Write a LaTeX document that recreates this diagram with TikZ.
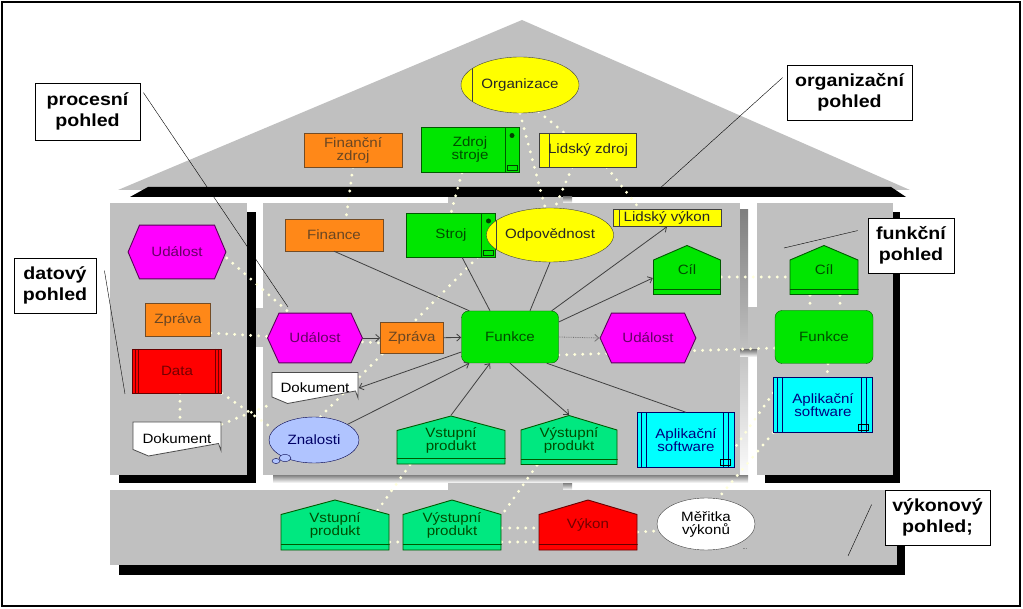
\documentclass[tikz,border=0pt]{standalone}
\usepackage{fontspec}
\setmainfont{Liberation Sans}[FakeStretch=1.12]
\usetikzlibrary{shapes.geometric,arrows.meta}
\definecolor{panel}{RGB}{192,192,192}
\definecolor{shade}{RGB}{128,128,128}
\definecolor{aorange}{RGB}{255,136,24}
\definecolor{agreen}{RGB}{0,230,0}
\definecolor{amint}{RGB}{0,232,128}
\definecolor{amag}{RGB}{255,0,255}
\definecolor{ayellow}{RGB}{255,255,0}
\definecolor{acyan}{RGB}{0,255,255}
\definecolor{ared}{RGB}{255,0,0}
\definecolor{aknow}{RGB}{176,196,255}
\definecolor{dotc}{RGB}{255,255,220}
\newcommand\boxfont{\fontsize{13.5}{13}\selectfont}
\newcommand\viewfont{\bfseries\fontsize{17.5}{21}\selectfont}
\pgfdeclarelayer{back}
\pgfdeclarelayer{links}
\pgfsetlayers{back,links,main}
\begin{document}
\begin{tikzpicture}[x=1pt,y=-1pt,
  box/.style={rectangle,inner sep=0pt,align=center,font=\boxfont},
  orangebox/.style={box,fill=aorange,draw=brown!60!black,text=brown!55!black},
  greenbox/.style={box,fill=agreen,draw=green!35!black,text=green!30!black},
  yellowbox/.style={box,fill=ayellow,draw=black!75,text=black!85},
  leftbar/.style={path picture={\draw[black!75] ([xshift=#1]path picture bounding box.north west) -- ([xshift=#1]path picture bounding box.south west);}},
  yellowoval/.style={ellipse,inner sep=0pt,font=\boxfont,fill=ayellow,draw=black!75,text=black!85},
  knowoval/.style={ellipse,inner sep=0pt,font=\boxfont,fill=aknow,draw=blue!30!black,text=blue!40!black},
  whiteoval/.style={ellipse,inner sep=0pt,align=center,font=\boxfont,fill=white,draw=black!75},
  funcbox/.style={greenbox,rounded corners=7pt},
  machine/.style={greenbox,path picture={
    \draw[green!35!black] ([xshift=-14pt]path picture bounding box.north east) -- ([xshift=-14pt]path picture bounding box.south east);
    \fill[green!25!black] ([xshift=-7pt,yshift=-8pt]path picture bounding box.north east) circle (2.5pt);
    \draw[green!25!black,line width=.4pt] ([xshift=-12pt,yshift=2pt]path picture bounding box.south east) rectangle ([xshift=-2pt,yshift=7pt]path picture bounding box.south east);}},
  house/.style 2 args={box,path picture={
    \filldraw[fill=#1,draw=#2,line width=.9pt]
      ([xshift=.5pt,yshift=.5pt]path picture bounding box.south west) --
      ([xshift=.5pt,yshift=-15pt]path picture bounding box.north west) --
      ([yshift=-.5pt]path picture bounding box.north) --
      ([xshift=-.5pt,yshift=-15pt]path picture bounding box.north east) --
      ([xshift=-.5pt,yshift=.5pt]path picture bounding box.south east) -- cycle;
    \draw[#2,line width=.9pt] ([yshift=6pt]path picture bounding box.south west) -- ([yshift=6pt]path picture bounding box.south east);}},
  hexa/.style={box,text=violet!80!black,path picture={
    \filldraw[fill=amag,draw=violet!70!black,line width=.9pt]
      ([xshift=.6pt]path picture bounding box.west) --
      ([xshift=12pt,yshift=-.6pt]path picture bounding box.north west) --
      ([xshift=-12pt,yshift=-.6pt]path picture bounding box.north east) --
      ([xshift=-.6pt]path picture bounding box.east) --
      ([xshift=-12pt,yshift=.6pt]path picture bounding box.south east) --
      ([xshift=12pt,yshift=.6pt]path picture bounding box.south west) -- cycle;}},
  docbox/.style={box,path picture={
    \filldraw[fill=white,draw=black!70,line width=.8pt]
      ([xshift=.5pt,yshift=7pt]path picture bounding box.south west) --
      ([xshift=.5pt,yshift=-.5pt]path picture bounding box.north west) --
      ([xshift=-.5pt,yshift=-.5pt]path picture bounding box.north east) --
      ([xshift=-.5pt,yshift=6pt]path picture bounding box.south east) --
      ([xshift=-3pt,yshift=13pt]path picture bounding box.south east) --
      ([xshift=16pt,yshift=.5pt]path picture bounding box.south west) -- cycle;}},
  appsw/.style={box,fill=acyan,draw=blue!40!black,text=blue!50!black,path picture={
    \foreach \d in {4pt,9pt}{
      \draw[blue!40!black] ([xshift=\d]path picture bounding box.north west) -- ([xshift=\d]path picture bounding box.south west);
      \draw[blue!40!black] ([xshift=-\d-2pt]path picture bounding box.north east) -- ([xshift=-\d-2pt]path picture bounding box.south east);}
    \draw[black,line width=.4pt] ([xshift=-14pt,yshift=2pt]path picture bounding box.south east) rectangle ([xshift=-4pt,yshift=8pt]path picture bounding box.south east);}},
  datab/.style={box,fill=ared,draw=red!40!black,text=red!45!black,path picture={
    \foreach \d in {3pt,6pt}{
      \draw[red!45!black] ([xshift=\d]path picture bounding box.north west) -- ([xshift=\d]path picture bounding box.south west);
      \draw[red!45!black] ([xshift=-\d]path picture bounding box.north east) -- ([xshift=-\d]path picture bounding box.south east);}}},
  viewlabel/.style={rectangle,draw,fill=white,line width=.8pt,align=center,inner sep=0pt,font=\viewfont},
  assign/.style={dotc,line width=3.2pt,line cap=round,dash pattern=on 0pt off 8pt},
  flow/.style={black!75,line width=.8pt},
  flowarrow/.style={flow,-{Straight Barb[length=4pt,width=7pt]}}]
\useasboundingbox (0,0) rectangle (1023,609);
\draw[line width=1.2pt] (2,2) rectangle (1020,606);

% the house
\begin{pgfonlayer}{back}
\fill[panel] (522,20) -- (910,190) -- (118,190) -- cycle;
\fill[black] (148,187) -- (891,187) -- (906,197) -- (130,197) -- cycle;
\fill[panel] (448,197) rectangle (563,203);
\fill[shade] (563,197) rectangle (572,203);
\fill[panel] (110,203) rectangle (247,475);
\fill[black] (247,212) rectangle (256,483);
\fill[black] (119,475) rectangle (256,483);
\fill[panel] (256,308) rectangle (263,347);
\fill[panel] (263,203) rectangle (740,475);
\fill[shade] (740,210) rectangle (748,483);
\fill[shade] (273,475) rectangle (748,483);
\fill[panel] (748,307) rectangle (757,350);
\fill[shade] (740,350) rectangle (757,357);
\fill[panel] (757,203) rectangle (893,475);
\fill[black] (893,212) rectangle (900,483);
\fill[black] (765,475) rectangle (900,483);
\fill[panel] (448,483) rectangle (563,490);
\fill[shade] (563,483) rectangle (572,490);
\fill[panel] (110,490) rectangle (897,565);
\fill[black] (897,497) rectangle (905,575);
\fill[black] (119,565) rectangle (905,575);
\end{pgfonlayer}

% roof
\node[yellowoval,leftbar=11pt,minimum width=118pt,minimum height=56pt] (org) at (520,85) {Organizace};
\node[orangebox,minimum width=98pt,minimum height=34pt] (finz) at (353,150) {Finanční\\zdroj};
\node[machine,minimum width=98pt,minimum height=45pt] (zstr) at (470,150) {Zdroj\\stroje};
\node[yellowbox,leftbar=10pt,minimum width=97pt,minimum height=34pt] (lidz) at (588,150) {Lidský zdroj};

% data view
\node[hexa,minimum width=99pt,minimum height=55pt] (ud0) at (177,252) {Událost};
\node[orangebox,minimum width=65pt,minimum height=33pt] (zpr0) at (178,320) {Zpráva};
\node[datab,minimum width=89pt,minimum height=44pt] (data0) at (177,371) {Data};
\node[docbox,minimum width=89pt,minimum height=35pt] (dok0) at (177,439) {Dokument};

% process view
\node[orangebox,minimum width=98pt,minimum height=32pt] (fin) at (334,235) {Finance};
\node[machine,minimum width=89pt,minimum height=44pt] (stroj) at (451,235) {Stroj};
\node[yellowoval,leftbar=10pt,minimum width=99pt,minimum height=54pt] (odp) at (550,235) {Odpovědnost};
\node[yellowbox,leftbar=6pt,minimum width=108pt,minimum height=17pt] (lvyk) at (667,218) {Lidský výkon};
\node[house={agreen}{green!35!black},text=green!30!black,minimum width=68pt,minimum height=50pt] (cil1) at (687,270) {Cíl};
\node[hexa,minimum width=96pt,minimum height=51pt] (ud1) at (315,338) {Událost};
\node[orangebox,minimum width=63pt,minimum height=31pt] (zpr1) at (412,338) {Zpráva};
\node[funcbox,minimum width=97pt,minimum height=52pt] (fun1) at (510,337) {Funkce};
\node[hexa,minimum width=97pt,minimum height=51pt] (ud2) at (648,338) {Událost};
\node[docbox,minimum width=87pt,minimum height=32pt] (dok1) at (315,388) {Dokument};
\node[knowoval,minimum width=90pt,minimum height=46pt] (zna) at (314,440) {Znalosti};
\draw[fill=aknow,draw=blue!30!black] (285,458) ellipse (6pt and 3.5pt);
\draw[fill=aknow,draw=blue!30!black] (276,461) ellipse (4pt and 2.5pt);
\node[house={amint}{green!35!black},text=green!30!black,minimum width=109pt,minimum height=49pt] (vst1) at (451,440) {Vstupní\\produkt};
\node[house={amint}{green!35!black},text=green!30!black,minimum width=97pt,minimum height=50pt] (vys1) at (569,440) {Výstupní\\produkt};
\node[appsw,minimum width=97pt,minimum height=55pt] (apl1) at (686,440) {Aplikační\\software};

% function view
\node[house={agreen}{green!35!black},text=green!30!black,minimum width=69pt,minimum height=50pt] (cil2) at (824,270) {Cíl};
\node[funcbox,minimum width=98pt,minimum height=53pt] (fun2) at (824,337) {Funkce};
\node[appsw,minimum width=99pt,minimum height=55pt] (apl2) at (823,405) {Aplikační\\software};

% performance view
\node[house={amint}{green!35!black},text=green!30!black,minimum width=109pt,minimum height=51pt] (vst2) at (335,525) {Vstupní\\produkt};
\node[house={amint}{green!35!black},text=green!30!black,minimum width=99pt,minimum height=51pt] (vys2) at (452,525) {Výstupní\\produkt};
\node[house={ared}{red!40!black},text=red!45!black,minimum width=99pt,minimum height=51pt] (vyk) at (588,525) {Výkon};
\node[whiteoval,minimum width=98pt,minimum height=52pt] (mer) at (706,524) {Měřitka\\výkonů};
\node[font=\tiny,inner sep=0pt] (merdots) at (745,549) {...};

% assignments
\begin{pgfonlayer}{links}
\draw[assign] (org.south) -- (odp.100);
\draw[assign] (org.-55) -- ([xshift=25pt]lidz.north west);
\draw[assign] ([xshift=33pt]lidz.south west) -- (odp.80);
\draw[assign] ([xshift=-30pt]lidz.south east) -- ([xshift=-27pt]lvyk.north);
\draw[assign] (finz.south) -- ([xshift=12pt]fin.north);
\draw[assign] ([xshift=-8pt]zstr.south) -- (stroj.north);
\draw[assign] ([xshift=-18pt]stroj.south east) -- (zna.75);
\draw[assign] ([yshift=-6pt]ud0.east) -- ([xshift=22pt]ud1.north west);
\draw[assign] ([yshift=-13pt]zpr0.east) -- ([yshift=-5pt]zpr1.west);
\draw[assign] (data0.south east) -- (zna.165);
\draw[assign] ([yshift=-3pt]dok0.north east) -- (dok1.south west);
\draw[assign] ([xshift=3pt]data0.south) -- ([xshift=3pt]dok0.north);
\draw[assign] ([yshift=-7pt]cil1.east) -- ([yshift=-7pt]cil2.west);
\draw[assign] ([yshift=-18pt]fun1.east) -- ([yshift=-11pt]fun2.west);
\draw[assign] ([xshift=-14pt]cil2.south) -- ([xshift=-14pt]fun2.north);
\draw[assign] ([xshift=16pt]cil2.south) -- ([xshift=16pt]fun2.north);
\draw[assign] ([xshift=4pt]fun2.south) -- ([xshift=4pt]apl2.north);
\draw[assign] ([yshift=12pt]apl2.west) -- ([yshift=-8pt]apl1.east);
\draw[assign] (apl2.south west) -- (mer.65);
\draw[assign] ([xshift=-41pt]vst1.south) -- ([xshift=42pt,yshift=-12pt]vst2.north);
\draw[assign] ([xshift=-32pt]vys1.south) -- ([yshift=-16pt]vys2.north east);
\draw[assign] ([yshift=-17pt]vst2.east) -- ([yshift=-17pt]vys2.west);
\draw[assign] ([yshift=-3pt]vys2.east) -- ([yshift=-3pt]vyk.west);
\draw[assign] ([yshift=-17pt]vys2.east) -- ([yshift=-17pt]vyk.west);
\draw[assign] ([yshift=-7pt]vyk.east) -- ([yshift=-7pt]mer.west);
\end{pgfonlayer}

% control flow around the function
\draw[flowarrow] (ud1) -- (zpr1);
\draw[flowarrow] (zpr1) -- (fun1);
\draw[flowarrow] ([yshift=-15pt]fun1.west) -- (dok1.east);
\draw[flowarrow] (zna.25) -- ([xshift=8pt]fun1.south west);
\draw[flowarrow] (vst1.north) -- ([xshift=-20pt]fun1.south);
\draw[flowarrow] (fun1.south) -- (vys1.north);
\draw[flow] ([xshift=-12pt]fun1.south east) -- (apl1.north);
\draw[flow] (fin.south) -- ([xshift=8pt]fun1.north west);
\draw[flow] ([xshift=11pt]stroj.south) -- ([xshift=-20pt]fun1.north);
\draw[flow] (odp.south) -- ([xshift=20pt]fun1.north);
\draw[flowarrow] ([xshift=-7pt]fun1.north east) -- (lvyk.south);
\draw[flowarrow] ([yshift=15pt]fun1.east) -- ([yshift=-8pt]cil1.west);
\draw[flowarrow,black!55,densely dotted] (fun1.east) -- (ud2.west);

% view labels
\node[viewlabel,minimum width=105pt,minimum height=57pt] (lbproc) at (87.5,111.5) {procesní\\pohled};
\node[viewlabel,minimum width=125pt,minimum height=55pt] (lborg) at (849.5,92.5) {organizační\\pohled};
\node[viewlabel,minimum width=82pt,minimum height=55pt] (lbdat) at (55,285.5) {datový\\pohled};
\node[viewlabel,minimum width=86pt,minimum height=55pt] (lbfun) at (911,245.5) {funkční\\pohled};
\node[viewlabel,minimum width=105pt,minimum height=55pt] (lbvyk) at (937.5,517.5) {výkonový\\pohled;};
\coordinate (procend) at (288,307);
\coordinate (orgend) at (658,190);
\coordinate (datend) at (125,394);
\coordinate (funend) at (784,248);
\coordinate (vykend) at (848,556);
\draw ([xshift=3pt,yshift=-10pt]lbproc.north east) -- (procend);
\draw ([xshift=-4pt,yshift=-13pt]lborg.north west) -- (orgend);
\draw ([xshift=8pt,yshift=-13pt]lbdat.north east) -- (datend);
\draw ([xshift=-10pt,yshift=-13pt]lbfun.north west) -- (funend);
\draw ([xshift=-13pt,yshift=-15pt]lbvyk.north west) -- (vykend);
\end{tikzpicture}
\end{document}
